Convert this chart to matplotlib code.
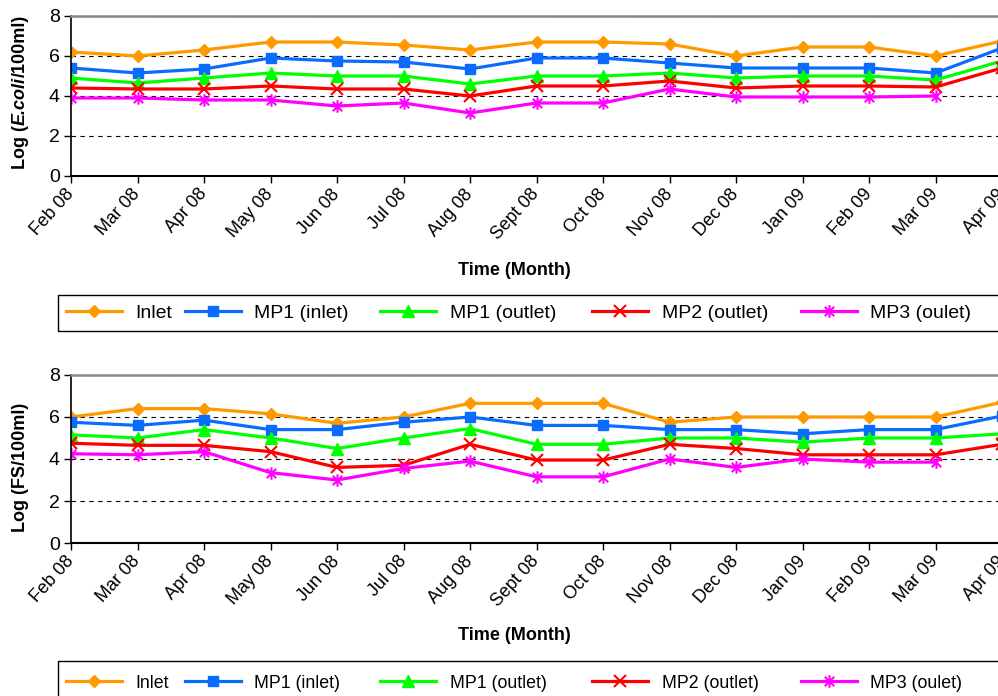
import numpy as np
import matplotlib
matplotlib.use("Agg")
import matplotlib.pyplot as plt
from matplotlib.path import Path
from matplotlib.patches import Rectangle

plt.rcParams['font.family'] = ['Liberation Sans', 'DejaVu Sans']

nan = np.nan
months = ["Feb 08", "Mar 08", "Apr 08", "May 08", "Jun 08", "Jul 08", "Aug 08",
          "Sept 08", "Oct 08", "Nov 08", "Dec 08", "Jan 09", "Feb 09", "Mar 09", "Apr 09"]
series_names = ["Inlet", "MP1 (inlet)", "MP1 (outlet)", "MP2 (outlet)", "MP3 (oulet)"]

ecoli_inlet = [6.2, 6.0, 6.3, 6.7, 6.7, 6.55, 6.3, 6.7, 6.7, 6.6, 6.0, 6.45, 6.45, 6.0, 6.75]
ecoli_mp1_in = [5.4, 5.15, 5.35, 5.9, 5.75, 5.7, 5.35, 5.9, 5.9, 5.65, 5.4, 5.4, 5.4, 5.15, 6.4]
ecoli_mp1_out = [4.9, 4.65, 4.9, 5.15, 5.0, 5.0, 4.6, 5.0, 5.0, 5.15, 4.9, 5.0, 5.0, 4.8, 5.75]
ecoli_mp2 = [4.4, 4.35, 4.35, 4.5, 4.35, 4.35, 4.0, 4.5, 4.5, 4.75, 4.4, 4.5, 4.5, 4.45, 5.4]
ecoli_mp3 = [3.9, 3.9, 3.8, 3.8, 3.5, 3.65, 3.15, 3.65, 3.65, 4.35, 3.95, 3.95, 3.95, 4.0, nan]

fs_inlet = [6.0, 6.4, 6.4, 6.15, 5.7, 6.0, 6.65, 6.65, 6.65, 5.75, 6.0, 6.0, 6.0, 6.0, 6.7]
fs_mp1_in = [5.75, 5.6, 5.85, 5.4, 5.4, 5.75, 6.0, 5.6, 5.6, 5.4, 5.4, 5.2, 5.4, 5.4, 6.05]
fs_mp1_out = [5.15, 5.0, 5.4, 5.0, 4.5, 5.0, 5.45, 4.7, 4.7, 5.0, 5.0, 4.8, 5.0, 5.0, 5.2]
fs_mp2 = [4.75, 4.65, 4.65, 4.35, 3.6, 3.7, 4.7, 3.95, 3.95, 4.7, 4.5, 4.2, 4.2, 4.2, 4.7]
fs_mp3 = [4.25, 4.2, 4.35, 3.35, 3.0, 3.55, 3.9, 3.15, 3.15, 4.0, 3.6, 4.0, 3.85, 3.85, nan]

yticks = [0, 2, 4, 6, 8]

asterisk = Path([(0, -1), (0, 1), (-0.75, -0.75), (0.75, 0.75), (-0.75, 0.75), (0.75, -0.75)],
                [Path.MOVETO, Path.LINETO] * 3)

styles = [
    dict(color='#FF9900', marker='D', markersize=6.5, mfc='#FF9900', mec='#FF9900'),
    dict(color='#0A6CFF', marker='s', markersize=7.5, mfc='#0A6CFF', mec='#0A6CFF'),
    dict(color='#00FF00', marker='^', markersize=8, mfc='#00FF00', mec='#00FF00'),
    dict(color='#FF0000', marker='x', markersize=8, mec='#FF0000', mew=1.5),
    dict(color='#FF00FF', marker=asterisk, markersize=9, mfc='none', mec='#FF00FF', mew=1.5),
]

fig = plt.figure(figsize=(9.98, 6.96), dpi=100)
W, H = 998.0, 696.0
ax1 = fig.add_axes([71 / W, 1 - 176 / H, 931 / W, 160 / H])
ax2 = fig.add_axes([71 / W, 1 - 543 / H, 931 / W, 168 / H])
renderer = fig.canvas.get_renderer()

x = np.arange(len(months))
legend_x = [66, 185, 380, 592, 801]


def rotated_label(parts, x_base, y_center, fs=13):
    texts, lengths = [], []
    for s, style in parts:
        t = fig.text(0, 0, s, rotation=90, rotation_mode='anchor', ha='left',
                     va='baseline', fontsize=fs, fontweight='bold', fontstyle=style)
        texts.append(t)
        lengths.append(t.get_window_extent(renderer).height)
    total = sum(lengths)
    y = y_center + total / 2.0  # pixel from top: bottom end of text
    for t, L in zip(texts, lengths):
        t.set_position((x_base / W, 1 - y / H))
        y -= L


def setup(ax, data, label_parts, label_center, legend_y, legend_fs, xlabel_y, frame_top):
    handles = []
    for d, st in zip(data, styles):
        h, = ax.plot(x, d, lw=2.3, clip_on=True, **st)
        handles.append(h)
    ax.set_xlim(0, len(months) - 1)
    ax.set_ylim(0, 8)
    ax.set_yticks(yticks)
    ax.set_xticks(x)
    ax.set_xticklabels(months, rotation=48, ha='right', va='center',
                       rotation_mode='anchor', fontsize=13)
    ax.tick_params(axis='x', direction='out', length=5, width=1, pad=6)
    ax.tick_params(axis='y', direction='out', length=5, width=1, pad=3, labelsize=14)
    ax.yaxis.grid(True, linestyle=(0, (4, 4)), color='black', lw=0.8)
    ax.set_axisbelow(True)
    ax.spines['right'].set_visible(False)
    ax.spines['top'].set_color('#888888')
    ax.spines['top'].set_linewidth(1.8)
    ax.spines['left'].set_linewidth(1.2)
    ax.spines['bottom'].set_linewidth(1.5)
    rotated_label(label_parts, 25, label_center)
    fig.text(514 / W, 1 - xlabel_y / H, 'Time (Month)', ha='center', va='center',
             fontweight='bold', fontsize=13)
    fpx = legend_fs * 100 / 72.0
    for h, name, lx in zip(handles, series_names, legend_x):
        leg = fig.legend([h], [name], loc='center left',
                         bbox_to_anchor=(lx / W, 1 - legend_y / H),
                         fontsize=legend_fs, frameon=False, borderaxespad=0,
                         borderpad=0, handlelength=56 / fpx,
                         handletextpad=13.5 / fpx, numpoints=1)
    fig.patches.append(Rectangle((58 / W, 1 - (frame_top + 36) / H), (1030 - 58) / W, 36 / H,
                                 transform=fig.transFigure, fill=False,
                                 edgecolor='black', lw=1.0))


setup(ax1, [ecoli_inlet, ecoli_mp1_in, ecoli_mp1_out, ecoli_mp2, ecoli_mp3],
      [('Log (', 'normal'), ('E.coli', 'italic'), ('/100ml)', 'normal')], 92, 313, 14, 270, 295)
setup(ax2, [fs_inlet, fs_mp1_in, fs_mp1_out, fs_mp2, fs_mp3],
      [('Log (FS/100ml)', 'normal')], 467, 683, 12.8, 636, 661)

fig.savefig('out.png', dpi=100)
